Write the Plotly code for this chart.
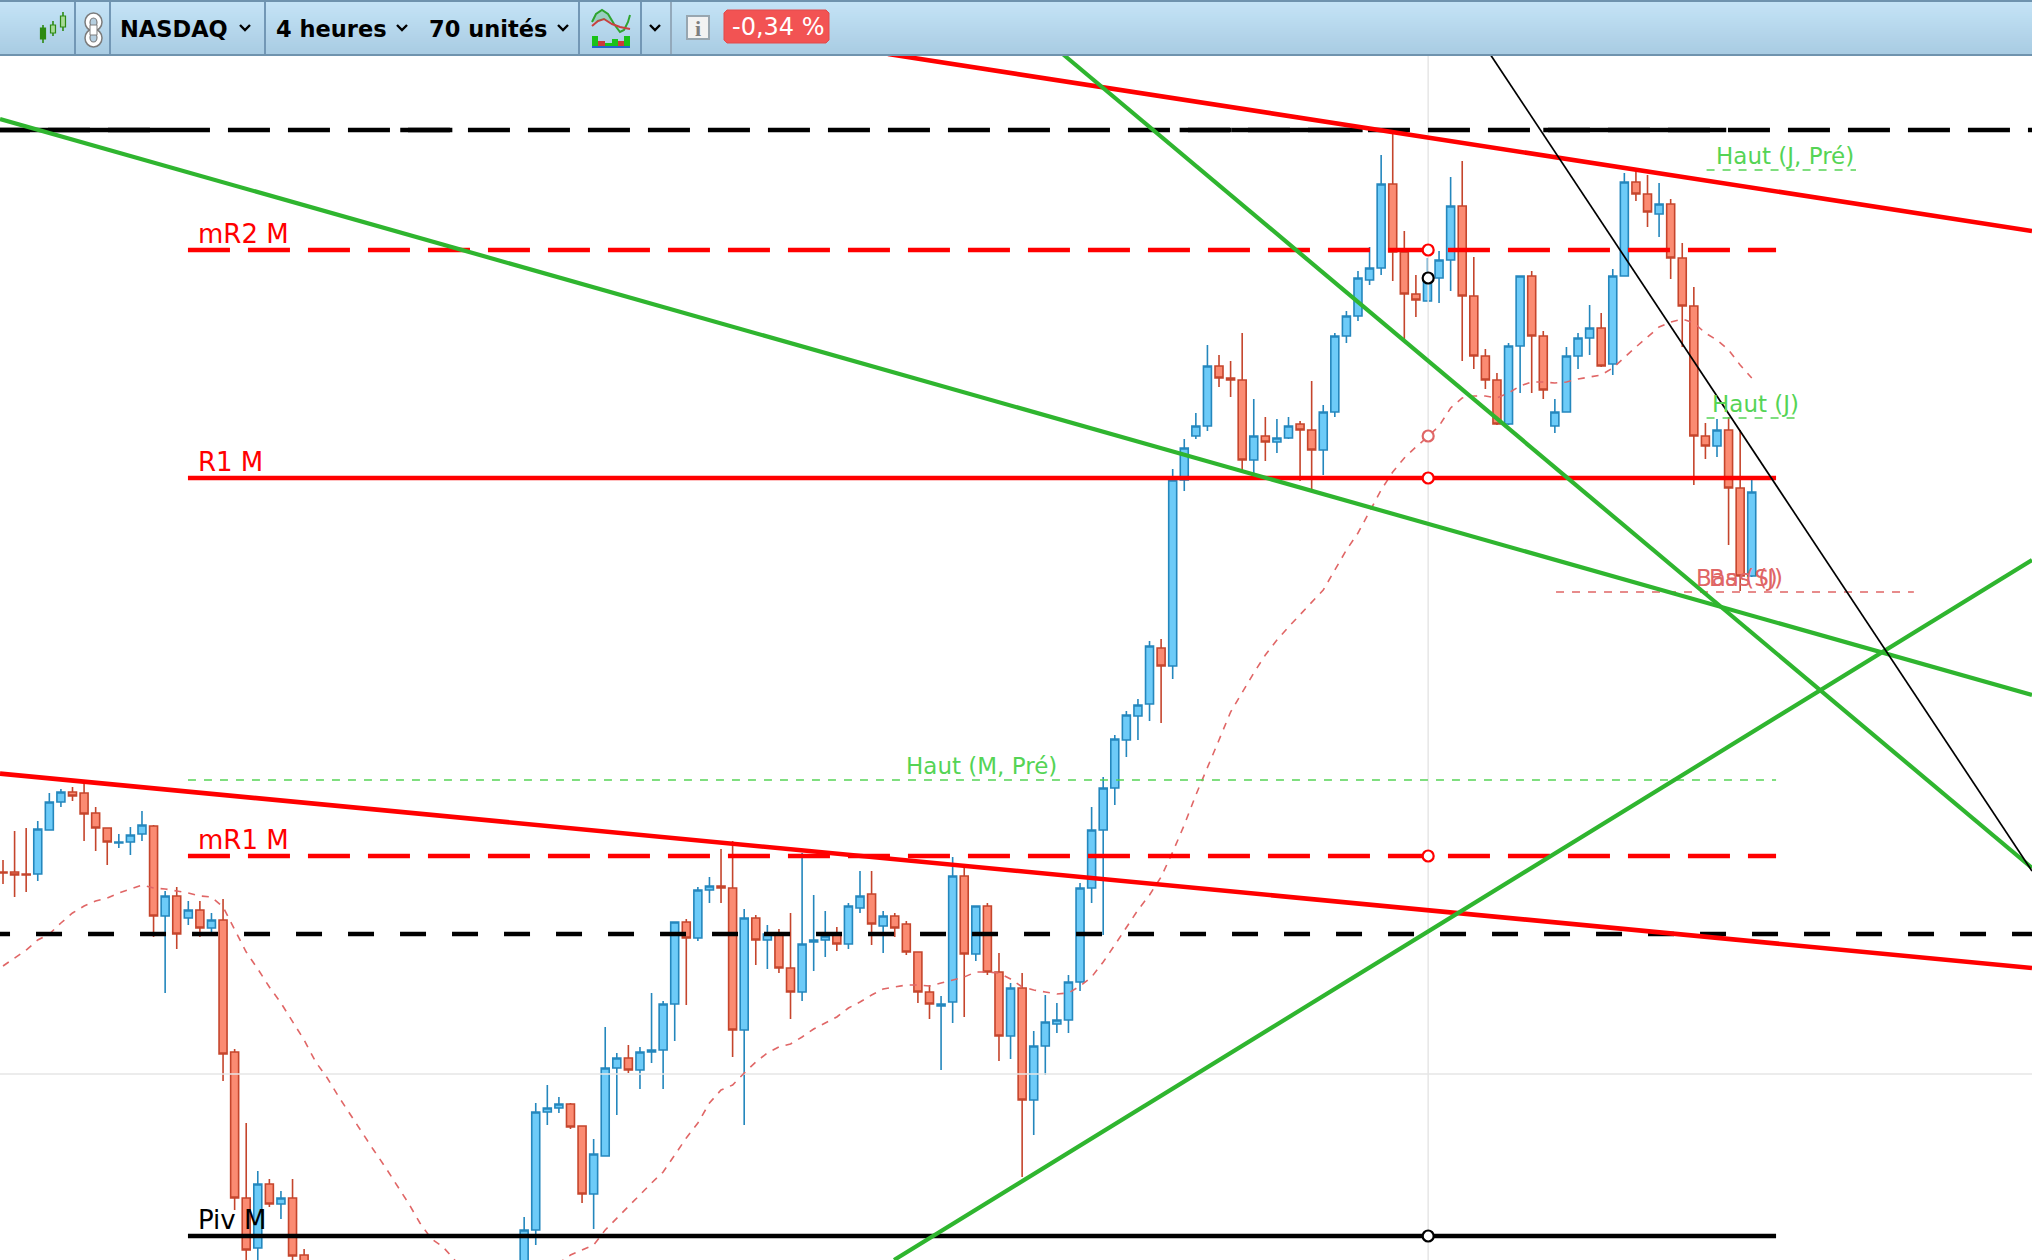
import plotly.graph_objects as go

W, H = 2032, 1260

# ---------- candle data (top-visible price scale), None = candle outside the visible window
high = [400,429,432,439,467,471,473,478,453,432,426,433,449,435,369,373,359,359,347,361,211,137,89,81,69,81,11,
        None,None,None,None,None,None,None,None,None,None,None,None,None,None,None,None,None,None,
        43,157,175,163,157,134,121,233,207,215,213,267,259,338,341,373,383,411,419,351,345,335,331,347,407,365,349,333,357,389,389,349,347,339,308,275,264,403,393,354,357,307,277,287,229,265,257,285,377,453,483,
        525,549,561,619,621,791,821,847,915,905,899,927,861,843,841,843,839,879,855,927,949,
        989,1013,1105,1127,1029,985,1002,1009,1083,1099,1003,911,887,917,984,989,929,861,913,927,955,947,991,1087,1091,1085,1077,1061,1017,973,837,841,843,830,780]
opens = [388,388,386,386,430,458,468,467,447,432,417,418,426,434,344,364,342,350,332,340,208,62,12,76,56,62,5,
         None,None,None,None,None,None,None,None,None,None,None,None,None,None,None,None,None,None,
         -20,30,148,152,156,134,66,104,192,202,190,208,210,256,338,322,370,374,372,230,342,320,326,292,268,318,320,326,316,352,366,334,344,336,308,268,254,258,384,306,354,288,224,272,160,214,236,240,278,372,430,
         472,520,544,556,612,594,780,824,834,894,882,880,800,824,818,822,836,830,810,848,924,
         944,980,992,1076,1008,966,959,982,1000,1054,964,904,880,836,914,984,924,834,848,904,922,932,896,984,1078,1066,1046,1056,1002,954,824,814,830,772,684]
lows = [376,363,368,379,430,453,459,419,409,395,412,405,419,323,267,311,335,323,327,179,50,-10,-7,53,41,0,-30,
        None,None,None,None,None,None,None,None,None,None,None,None,None,None,None,None,None,None,
        -30,15,135,147,131,57,31,104,145,187,171,197,171,219,255,319,357,357,203,135,295,291,287,241,259,289,303,309,311,347,315,307,323,305,257,241,190,237,243,299,285,199,201,83,125,185,227,227,269,357,325,
        455,503,520,539,537,581,769,821,829,873,863,790,787,799,807,821,779,771,785,843,917,
        939,975,985,979,921,943,959,957,969,899,891,871,835,835,867,867,861,827,848,891,905,893,885,984,1059,1033,1023,981,913,775,801,803,715,669,683]
closes = [387,385,385,431,458,468,464,446,432,418,418,425,435,344,364,326,350,332,340,206,62,10,76,56,62,4,-20,
          None,None,None,None,None,None,None,None,None,None,None,None,None,None,None,None,None,None,
          30,148,152,156,133,66,106,192,202,190,208,210,256,338,322,370,374,372,230,342,320,326,292,268,316,320,324,316,354,364,336,344,332,308,268,256,256,384,306,354,288,224,272,160,214,238,240,278,372,430,472,
          521,545,555,614,594,780,812,834,894,882,880,800,824,818,822,834,830,810,848,924,944,
          982,992,1076,1008,966,960,984,1000,1054,964,904,880,836,914,984,924,870,848,904,922,932,894,984,1078,1066,1048,1056,1002,954,824,814,830,772,684,768]

ma_values = [294,302,310,320,326,337,347,354,359,362,367,371,375,372,371,369,367,364,363,353,330,308,291,273,257,238,220,198,182,163,145,127,110,93,75,57,37,21,13,0,-15,
             None,None,None,None,None,None,-30,-3,5,10,15,30,42,53,65,77,88,105,122,137,157,170,175,187,198,207,213,216,223,231,237,243,252,258,265,271,273,275,275,274,277,280,283,288,288,287,281,273,270,268,266,267,274,283,298,315,332,350,365,383,408,
             435,465,492,520,548,568,587,605,620,633,645,658,670,690,710,727,748,770,788,802,813,823,834,852,862,864,864,862,867,874,878,878,877,878,881,883,885,892,903,913,923,933,938,941,937,927,920,910,895,882]

# horizontal levels
lvl_top_black = 1130
lvl_mr2 = 1010
lvl_r1 = 782
lvl_haut_m = 480
lvl_mr1 = 404
lvl_low_black = 326
lvl_piv = 24
lvl_grid = 186
lvl_bas = 668
lvl_haut_jp = 1090
lvl_haut_j = 842

cross_x = 123.06
cross_prices = [1010, 982, 824, 782, 404, 24]
cross_colors = ["#ff0000", "#000000", "#e06666", "#ff0000", "#ff0000", "#000000"]

# trend lines: (x0, p0, x1, p1) in candle index / price
trend_red = [(76.42, 1206, 175.2, 1029), (-0.26, 486.4, 175.2, 292)]
trend_green = [(-0.26, 1141, 175.2, 565), (91.5, 1206, 175.2, 392), (76.94, 0, 175.2, 700)]
trend_black = [(128.4, 1206, 175.2, 389)]

toolbar_labels = ["NASDAQ", "4 heures", "70 unités"]
change_label = "-0,34 %"

XMIN, XMAX = -0.26, 175.2
LV0, LV1 = 15.97, 153.1
FONT = "DejaVu Sans"


def px(x):
    return x / W


def py(y):
    return 1 - y / H


candle_x = [i for i, v in enumerate(opens) if v is not None]
fig = go.Figure()
fig.add_trace(go.Candlestick(
    x=candle_x,
    open=[opens[i] for i in candle_x], high=[high[i] for i in candle_x],
    low=[lows[i] for i in candle_x], close=[closes[i] for i in candle_x],
    increasing=dict(line=dict(color="#2487bd", width=1.6), fillcolor="#6dcbf8"),
    decreasing=dict(line=dict(color="#c5452c", width=1.6), fillcolor="#fb8b72"),
    whiskerwidth=0, hoverinfo="skip", showlegend=False,
))


def line(xs, ys, color, width, dash="solid"):
    fig.add_trace(go.Scatter(x=xs, y=ys, mode="lines", connectgaps=False, hoverinfo="skip",
                             line=dict(color=color, width=width, dash=dash), showlegend=False))


# crosshair + grid
line([cross_x, cross_x], [0, 1260], "#e6e6e6", 1.5)
line([XMIN, XMAX], [lvl_grid, lvl_grid], "#e6e6e6", 1.5)

# moving average
line(list(range(len(ma_values))), ma_values, "#e06666", 1.6, "7px,7px")

# black levels
line([-1.3, XMAX], [lvl_top_black] * 2, "#000000", 4.4, "42px,18px")
extra_x = [-0.26, 14.25, None, 34.3, 38.8, None, 101.6, 106.1, None, 106.1, 117.4, None, 133, 148.8]
extra_y = [lvl_top_black] * 2 + [None] + [lvl_top_black] * 2 + [None] + [lvl_top_black] * 2 + [None] + [lvl_top_black] * 2 + [None] + [lvl_top_black] * 2
line(extra_x, extra_y, "#000000", 4.4)
line([-1.64, XMAX], [lvl_low_black] * 2, "#000000", 4.4, "26px,26px")
line([LV0, LV1], [lvl_piv] * 2, "#000000", 4.4)

# red levels
line([LV0, LV1], [lvl_mr2] * 2, "#ff0000", 4.4, "42px,18px")
line([LV0, LV1], [lvl_mr1] * 2, "#ff0000", 4.4, "42px,18px")
line([LV0, LV1], [lvl_r1] * 2, "#ff0000", 4.4)

# thin dashed levels
line([LV0, LV1], [lvl_haut_m] * 2, "#55d455", 1.6, "8px,8px")
line([147.1, 160.0], [lvl_haut_jp] * 2, "#55d455", 1.6, "8px,8px")
line([147.1, 154.7], [lvl_haut_j] * 2, "#55d455", 1.6, "8px,8px")
line([134.1, 165.0], [lvl_bas] * 2, "#e06666", 1.6, "8px,8px")

# trend lines
for (a, b, c, d) in trend_red:
    line([a, c], [b, d], "#ff0000", 4.6)
for (a, b, c, d) in trend_green:
    line([a, c], [b, d], "#2fb52f", 4.2)
for (a, b, c, d) in trend_black:
    line([a, c], [b, d], "#000000", 1.7)

# crosshair markers
fig.add_trace(go.Scatter(
    x=[cross_x] * len(cross_prices), y=cross_prices, mode="markers", hoverinfo="skip", showlegend=False,
    marker=dict(size=11, color="#ffffff", line=dict(color=cross_colors, width=2.2)),
))

shapes = []
# toolbar gradient
c0, c1 = (197, 228, 247), (168, 203, 226)
for y in range(0, 56, 2):
    t = y / 54
    col = "rgb(%d,%d,%d)" % tuple(round(a + (b - a) * t) for a, b in zip(c0, c1))
    shapes.append(dict(type="rect", xref="paper", yref="paper", x0=0, x1=1, y0=py(y), y1=py(y + 2),
                       fillcolor=col, line_width=0, layer="above"))
for (a, b) in [(0, 2), (54, 56)]:
    shapes.append(dict(type="rect", xref="paper", yref="paper", x0=0, x1=1, y0=py(a), y1=py(b),
                       fillcolor="#6f93ae", line_width=0, layer="above"))
for x in [75, 110, 265, 579, 641]:
    shapes.append(dict(type="rect", xref="paper", yref="paper", x0=px(x - 1), x1=px(x + 1), y0=py(2), y1=py(54),
                       fillcolor="#7297b5", line_width=0, layer="above"))
shapes.append(dict(type="rect", xref="paper", yref="paper", x0=px(670), x1=px(672), y0=py(2), y1=py(54),
                   fillcolor="#93a9bb", line_width=0, layer="above"))


def rect(x0, y0, x1, y1, fill, lc=None, lw=0):
    shapes.append(dict(type="rect", xref="paper", yref="paper", x0=px(x0), x1=px(x1), y0=py(y0), y1=py(y1),
                       fillcolor=fill, line=dict(color=lc or fill, width=lw), layer="above"))


def oval(x0, y0, x1, y1, fill, lc, lw):
    shapes.append(dict(type="circle", xref="paper", yref="paper", x0=px(x0), x1=px(x1), y0=py(y0), y1=py(y1),
                       fillcolor=fill, line=dict(color=lc, width=lw), layer="above"))


def path(pts, color, width, fill=None):
    d = "M " + " L ".join("%.5f %.5f" % (px(a), py(b)) for a, b in pts)
    if fill:
        d += " Z"
    shapes.append(dict(type="path", path=d, xref="paper", yref="paper", layer="above",
                       line=dict(color=color, width=width), fillcolor=fill or "rgba(0,0,0,0)"))


# candle icon
for (x, y0, y1, wy0, wy1, fill) in [(43, 28, 39, 25, 43, "#2d8a12"), (53, 25, 33, 21, 36, "#a7d998"), (63, 16, 27, 12, 31, "#a7d998")]:
    path([(x, wy0), (x, wy1)], "#2d8a12", 1.6)
    rect(x - 2.5, y0, x + 2.5, y1, fill, "#2d8a12", 1.2)

# chain icon
oval(85, 13, 102, 31, "#ffffff", "#7c7c7c", 1.5)
oval(85, 29, 102, 47, "#ffffff", "#7c7c7c", 1.5)
oval(90, 18, 97, 27, "#b6cfe0", "#7c7c7c", 1.2)
oval(90, 33, 97, 42, "#b6cfe0", "#7c7c7c", 1.2)
rect(90, 25, 97, 35, "#ffffff", "#7c7c7c", 1)

# chevrons
for x in [245, 402, 563, 655]:
    path([(x - 5, 25), (x, 30), (x + 5, 25)], "#000000", 2.4)

# indicator icon
path([(592, 22), (596, 14), (602, 10), (608, 14), (614, 24), (620, 32), (624, 30), (628, 22), (630, 15)], "#2fa52f", 2)
path([(592, 26), (598, 21), (604, 19), (612, 24), (620, 27), (630, 29)], "#c94040", 2)
path([(592, 22), (596, 14), (602, 10), (608, 14), (612, 22), (604, 19), (598, 21)], "rgba(0,0,0,0)", 0, "rgba(47,165,47,0.25)")
for (a, b, c, col) in [(592, 598, 36, "#19c219"), (598, 605, 41, "#cc3a3a"), (605, 612, 43, "#19c219"),
                       (612, 618, 39, "#19c219"), (618, 624, 41, "#cc3a3a"), (624, 630, 36, "#19c219")]:
    rect(a, c, b, 46, col)
rect(592, 46, 630, 48, "#2266cc")

# info icon
rect(687, 16, 709, 39, "#f2f2f2", "#98a6b0", 2)
# change pill
shapes.append(dict(type="path", xref="paper", yref="paper", layer="above", fillcolor="#f25353",
                   line=dict(color="#e34a4a", width=1),
                   path="M %f %f L %f %f L %f %f L %f %f L %f %f L %f %f L %f %f L %f %f Z" % (
                       px(727), py(10), px(826), py(10), px(829), py(13), px(829), py(40),
                       px(826), py(43), px(727), py(43), px(724), py(40), px(724), py(13))))

ann = []


def label(text, x_px, y_px, color, size, family=FONT, weight=None, anchor="left"):
    f = dict(color=color, size=size, family=family)
    if weight:
        f["weight"] = weight
    ann.append(dict(text=text, xref="paper", yref="paper", x=px(x_px), y=py(y_px), xanchor=anchor, yanchor="middle",
                    showarrow=False, font=f, borderpad=0, borderwidth=0))


label("mR2 M", 198, 234, "#ff0000", 26)
label("R1 M", 198, 462, "#ff0000", 26)
label("mR1 M", 198, 840, "#ff0000", 26)
label("Piv M", 198, 1220, "#000000", 26)
label("Haut (M, Pré)", 906, 766, "#55d455", 23)
label("Haut (J, Pré)", 1716, 156, "#55d455", 23)
label("Haut (J)", 1712, 404, "#55d455", 23)
label("Bas (S)", 1696, 578, "#e06666", 23)
label("Bas (J)", 1709, 578, "#e06666", 23)

label(toolbar_labels[0], 120, 29, "#000000", 22.5, weight=700)
label(toolbar_labels[1], 276, 29, "#000000", 22.5, weight=700)
label(toolbar_labels[2], 429, 29, "#000000", 22.5, weight=700)
label(change_label, 732, 27, "#ffffff", 24)
label("i", 698, 28, "#7e7e7e", 22, family="Liberation Serif", weight=700, anchor="center")

fig.update_layout(
    width=W, height=H, margin=dict(l=0, r=0, t=0, b=0, pad=0),
    paper_bgcolor="#ffffff", plot_bgcolor="#ffffff", showlegend=False, hovermode=False,
    shapes=shapes, annotations=ann, boxgap=0.31, boxgroupgap=0,
    xaxis=dict(range=[XMIN, XMAX], visible=False, rangeslider=dict(visible=False), fixedrange=True),
    yaxis=dict(range=[0, 1260], visible=False, fixedrange=True),
)

fig.write_html("out.html", config=dict(displayModeBar=False),
               post_script="document.body.style.margin='0';document.body.style.overflow='hidden';")
